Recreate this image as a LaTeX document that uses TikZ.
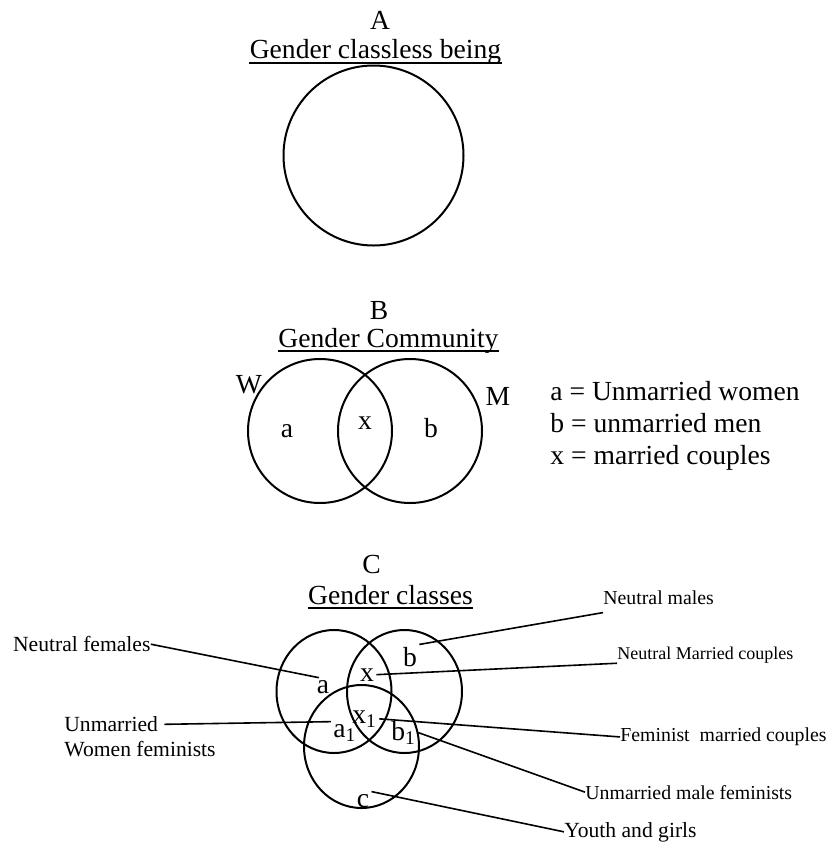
\documentclass[tikz,border=0pt]{standalone}
\usepackage{fontspec}
\setmainfont{Liberation Serif}
\tikzset{ring/.style={draw=black, line width=1pt},
big/.style={font=\fontsize{13.8}{16}\selectfont, inner sep=0pt, anchor=base},
%letters inside the rings of C
let/.style={font=\fontsize{13.8}{16}\selectfont, inner sep=1pt, anchor=base},
lbl/.style={font=\fontsize{#1}{13}\selectfont, inner sep=0pt, anchor=base west},
lbl/.default={10.8},
conn/.style={line width=0.8pt},
uline/.style={line width=1pt}}

\begin{document}
\begin{tikzpicture}[x=0.5pt,y=-0.5pt]
\useasboundingbox (0,0) rectangle (830,842);

% A
\node[big] (ha) at (380,29) {A};
\node[big] (ta) at (375.5,58.5) {Gender classless being};
\draw[uline] ([yshift=-2pt]ta.base west) -- ([yshift=-2pt]ta.base east);
\draw[ring] (373.5,155.5) circle [radius=90];

% B
\node[big] (hb) at (379,319) {B};
\node[big] (tb) at (388.5,347) {Gender Community};
\draw[uline] ([yshift=-2pt]tb.base west) -- ([yshift=-2pt]tb.base east);
\draw[ring] (320,431) circle [radius=72];
\draw[ring] (410,431) circle [radius=72];
\node[big] (bw) at (249,393) {W};
\node[big] (bm) at (498,405) {M};
\node[big] (ba) at (287,437) {a};
\node[big] (bx) at (365,429) {x};
\node[big] (bb) at (431,437) {b};
%legend
\node[big, anchor=base west] (la) at (550,400) {a = Unmarried women};
\node[big, anchor=base west] (lb) at (550,432) {b = unmarried men};
\node[big, anchor=base west] (lx) at (550,464) {x = married couples};

% C
\node[big] (hc) at (371.7,573) {C};
\node[big] (tc) at (390.5,604) {Gender classes};
\draw[uline] ([yshift=-2pt]tc.base west) -- ([yshift=-2pt]tc.base east);
\draw[ring] (334,691.5) ellipse [x radius=57.5, y radius=61.5];
\draw[ring] (404.5,691.5) ellipse [x radius=57.5, y radius=61.5];
\draw[ring] (361.5,746.5) ellipse [x radius=57.5, y radius=61.5];

\node[let] (ca) at (323,693) {a};
\node[let] (cx) at (367,681) {x};
\node[let] (cb) at (410,666) {b};
\node[let] (cc) at (363,807) {c};
\node[let, anchor=base west] (cx1) at (350,723) {x\textsubscript{1}};
\node[let, anchor=base west] (ca1) at (331,737) {a\textsubscript{1}};
\node[let, anchor=base west] (cb1) at (389,740) {b\textsubscript{1}};

%labels
\node[lbl] (nf) at (12.7,651.7) {Neutral females};
\node[lbl] (um1) at (64,731.7) {Unmarried};
\node[lbl] (um2) at (64,756) {Women feminists};
\node[lbl=9.9] (nm) at (603,604) {Neutral males};
\node[lbl=9] (nmc) at (617,659) {Neutral Married couples};
\node[lbl=9.9] (fmc) at (620,741.7) {Feminist\ \ married couples};
\node[lbl=9.9] (umf) at (585,799) {Unmarried male feminists};
\node[lbl] (yg) at (564,837) {Youth and girls};

\draw[conn] (nf.east) -- (ca.115);
\draw[conn] ([xshift=3pt]um1.east) -- (ca1.north west);
\draw[conn] ([yshift=-4pt]nm.south west) -- (cb.north east);
\draw[conn] (nmc.south west) -- (cx.east);
\draw[conn] (fmc.west) -- (cx1.east);
\draw[conn] (umf.west) -- (cb1.east);
\draw[conn] (yg.west) -- (cc.north east);

\end{tikzpicture}
\end{document}
